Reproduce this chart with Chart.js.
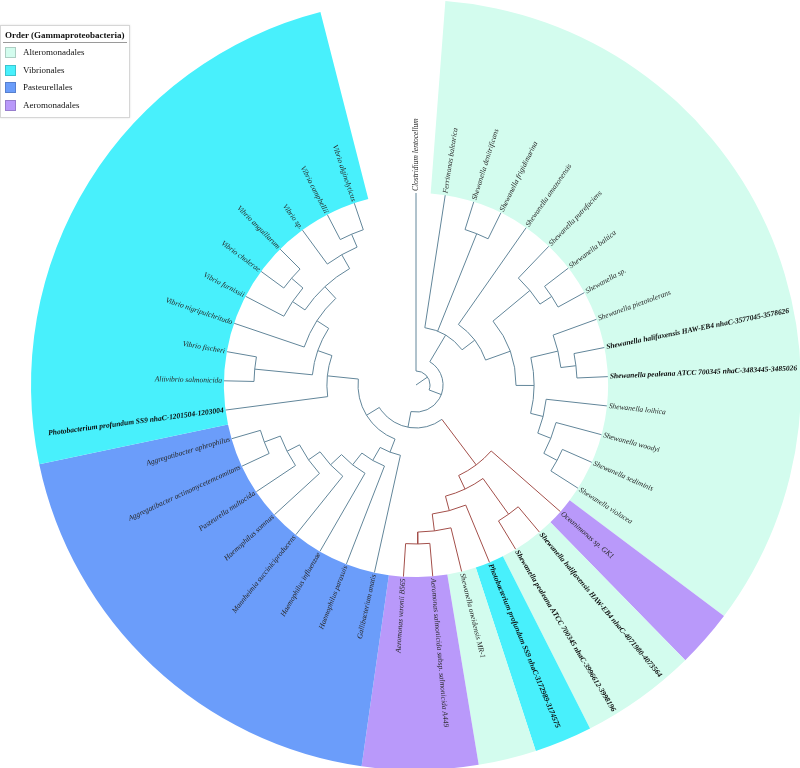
<!DOCTYPE html>
<html>
<head>
<meta charset="utf-8">
<script src="https://cdn.jsdelivr.net/npm/chart.js@4.4.0/dist/chart.umd.min.js"></script>
<style>
html,body{margin:0;padding:0;background:#fff;overflow:hidden;width:800px;height:768px;}
#wrap{position:relative;width:800px;height:768px;overflow:hidden;}
.layer{position:absolute;left:0;top:0;width:832px;height:770px;}
#legend{position:absolute;left:0;top:25px;width:128px;height:91px;border:1px solid #d6d6d6;background:#fff;
  font-family:"Liberation Serif","Times New Roman",serif;color:#111;box-shadow:0 0 2px rgba(0,0,0,0.12);}
#legend .lt{position:absolute;left:4px;top:4px;font-size:9px;font-weight:bold;white-space:nowrap;}
#legend .rule{position:absolute;left:2px;top:16px;width:124px;height:1px;background:#9a9a9a;}
#legend .li{position:absolute;left:4px;height:11px;line-height:11px;font-size:9px;white-space:nowrap;}
#legend .sw{display:inline-block;width:11px;height:11px;box-sizing:border-box;border:1px solid rgba(0,0,0,0.18);vertical-align:top;margin-right:7px;}
</style>
</head>
<body>
<div id="wrap">
  <div class="layer"><canvas id="wedges"></canvas></div>
  <div class="layer"><canvas id="tree"></canvas></div>
  <div id="legend"></div>
</div>
<script>
// ---------- data ----------
const leafNames = [
  'Clostridium lentocellum','Ferrimonas balearica','Shewanella denitrificans','Shewanella frigidimarina',
  'Shewanella amazonensis','Shewanella putrefaciens','Shewanella baltica','Shewanella sp.',
  'Shewanella piezotolerans','Shewanella halifaxensis HAW-EB4 nhaC-3577045-3578626',
  'Shewanella pealeana ATCC 700345 nhaC-3483445-3485026','Shewanella loihica','Shewanella woodyi',
  'Shewanella sediminis','Shewanella violacea','Oceanimonas sp. GK1',
  'Shewanella halifaxensis HAW-EB4 nhaC-4071980-4073564','Shewanella pealeana ATCC 700345 nhaC-3996612-3998196',
  'Photobacterium profundum SS9 nhaC-3172989-3174575','Shewanella oneidensis MR-1',
  'Aeromonas salmonicida subsp. salmonicida A449','Aeromonas veronii B565','Gallibacterium anatis',
  'Haemophilus parasuis','Haemophilus influenzae','Mannheimia succiniciproducens','Haemophilus somnus',
  'Pasteurella multocida','Aggregatibacter actinomycetemcomitans','Aggregatibacter aphrophilus',
  'Photobacterium profundum SS9 nhaC-1201504-1203004','Aliivibrio salmonicida','Vibrio fischeri',
  'Vibrio nigripulchritudo','Vibrio furnissii','Vibrio cholerae','Vibrio anguillarum','Vibrio sp.',
  'Vibrio campbellii','Vibrio alginolyticus'
];
const ALT='Alteromonadales', VIB='Vibrionales', PAS='Pasteurellales', AER='Aeromonadales';
const leafOrders = [
  '', ALT,ALT,ALT,ALT,ALT,ALT,ALT,ALT,ALT,ALT,ALT,ALT,ALT,ALT,
  AER, ALT,ALT, VIB, ALT, AER,AER,
  PAS,PAS,PAS,PAS,PAS,PAS,PAS,PAS,
  VIB,VIB,VIB,VIB,VIB,VIB,VIB,VIB,VIB,VIB
];
const boldLeaves = [10, 11, 17, 18, 19, 31];
const legendTitle = 'Order (Gammaproteobacteria)';
const orderNames  = [ALT, VIB, PAS, AER];
const orderColors = ['#d3fcee', '#48f0fc', '#6b9dfa', '#b999fa'];

// internal nodes: depth relative to the tips (tip = 1); children are leaf numbers or node names
const nodeNames = ['Root','G','T','DF','A','Q','PBS','BS','PL','PHP','HP','LOI','WSV','SV',
  'L','R0','R1','R2','R3','R4','R5','VP','P0','P1','P2','P3','P4','P5','AA',
  'V0','V2','FA','V3','V4','FCA','CA','SAC','AC'];
const nodeDepths = [0.073,0.141,0.302,0.849,0.385,0.521,0.771,0.844,0.615,0.760,0.839,0.682,0.755,0.833,
  0.224,0.521,0.599,0.828,0.677,0.766,0.828,0.302,0.375,0.453,0.531,0.609,0.682,0.755,0.844,
  0.464,0.542,0.844,0.615,0.698,0.776,0.854,0.781,0.854];
const nodeChildren = [[1,'G'],['T','L'],[2,'DF','A'],[3,4],[5,'Q'],['PBS','PL'],[6,'BS'],[7,8],
  ['PHP','LOI'],[9,'HP'],[10,11],[12,'WSV'],[13,'SV'],[14,15],
  ['R0','VP'],[16,'R1'],['R2','R3'],[17,18],[19,'R4'],[20,'R5'],[21,22],
  ['P0','V0'],[23,'P1'],[24,'P2'],[25,'P3'],[26,'P4'],[27,'P5'],[28,'AA'],[29,30],
  [31,'V2'],['FA','V3'],[32,33],[34,'V4'],['FCA','SAC'],[35,'CA'],[36,37],[38,'AC'],[39,40]];
const redClade = 'R0';

// ---------- layout helpers ----------
const SPAN = 350;                       // degrees of the circle used by the tips
const step = SPAN / leafNames.length;
const leafAngle = i => (i - 1) * step;  // clockwise from 12 o'clock
const nodeIndex = {};
nodeNames.forEach((n, i) => nodeIndex[n] = i);
function angleOf(c) {
  if (typeof c === 'number') return leafAngle(c);
  const ch = nodeChildren[nodeIndex[c]];
  return (angleOf(ch[0]) + angleOf(ch[ch.length - 1])) / 2;
}
function depthOf(c) { return typeof c === 'number' ? 1 : nodeDepths[nodeIndex[c]]; }
const redSet = new Set();
(function mark(c) { redSet.add(c); if (typeof c !== 'number') nodeChildren[nodeIndex[c]].forEach(mark); })(redClade);
const rad = d => d * Math.PI / 180;
const pt = (r, th) => ({ x: r * Math.sin(rad(th)), y: r * Math.cos(rad(th)) });

const BLUE = '#62869a', RED = '#a34f4a';
const blueSeg = [], redSeg = [];
function addSeg(arr, r1, r2, th) { arr.push(pt(r1, th), pt(r2, th), { x: null, y: null }); }
addSeg(blueSeg, 0, depthOf('Root'), angleOf('Root'));
nodeNames.forEach((n, i) => {
  nodeChildren[i].forEach(c => addSeg(redSet.has(c) ? redSeg : blueSeg, nodeDepths[i], depthOf(c), angleOf(c)));
});

// ---------- wedges (doughnut) ----------
const segCounts = [], segColors = [];
leafOrders.forEach((o, i) => {
  if (i > 0 && o === leafOrders[i - 1]) { segCounts[segCounts.length - 1]++; }
  else { segCounts.push(1); segColors.push(o ? orderColors[orderNames.indexOf(o)] : 'rgba(0,0,0,0)'); }
});
new Chart(document.getElementById('wedges'), {
  type: 'doughnut',
  data: { datasets: [{ data: segCounts, backgroundColor: segColors, borderWidth: 0, offset: 0, hoverOffset: 0 }] },
  options: {
    responsive: true, maintainAspectRatio: false, animation: false, events: [],
    rotation: -step / 2, circumference: SPAN, cutout: '49.9%',
    layout: { padding: 0, autoPadding: false },
    plugins: { legend: { display: false }, tooltip: { enabled: false } }
  }
});

// ---------- tree ----------
const treePlugin = {
  id: 'treeArcsLabels',
  afterDatasetsDraw(chart) {
    const { ctx, scales: { x, y } } = chart;
    const cx = x.getPixelForValue(0), cy = y.getPixelForValue(0);
    const unit = x.getPixelForValue(1) - cx;
    ctx.save();
    ctx.lineWidth = 1;
    nodeNames.forEach((n, i) => {
      const ch = nodeChildren[i];
      const a1 = angleOf(ch[0]), a2 = angleOf(ch[ch.length - 1]);
      ctx.strokeStyle = redSet.has(n) ? RED : BLUE;
      ctx.beginPath();
      ctx.arc(cx, cy, nodeDepths[i] * unit, rad(a1 - 90), rad(a2 - 90), false);
      ctx.stroke();
    });
    ctx.textBaseline = 'middle';
    leafNames.forEach((name, k) => {
      const i = k + 1, th = leafAngle(i);
      const bold = boldLeaves.includes(i);
      const R = unit + 2;
      const px = cx + R * Math.sin(rad(th)), py = cy - R * Math.cos(rad(th));
      ctx.save();
      ctx.translate(px, py);
      ctx.fillStyle = bold ? '#0a0a0a' : '#262626';
      ctx.font = (bold ? 'italic bold ' : 'italic ') + '7.5px "Liberation Serif", serif';
      if (th <= 180) { ctx.rotate(rad(th - 90)); ctx.textAlign = 'left'; }
      else { ctx.rotate(rad(th + 90)); ctx.textAlign = 'right'; }
      ctx.fillText(name, 0, 0);
      ctx.restore();
    });
    ctx.restore();
  }
};
const HX = 416 / 192, HY = 385 / 192;
new Chart(document.getElementById('tree'), {
  type: 'scatter',
  data: { datasets: [
    { data: blueSeg, showLine: true, borderColor: BLUE, borderWidth: 1, pointRadius: 0, pointHoverRadius: 0, spanGaps: false },
    { data: redSeg,  showLine: true, borderColor: RED,  borderWidth: 1, pointRadius: 0, pointHoverRadius: 0, spanGaps: false }
  ] },
  options: {
    responsive: true, maintainAspectRatio: false, animation: false, events: [],
    layout: { padding: 0, autoPadding: false },
    scales: {
      x: { type: 'linear', min: -HX, max: HX, display: false },
      y: { type: 'linear', min: -HY, max: HY, display: false }
    },
    plugins: { legend: { display: false }, tooltip: { enabled: false } }
  },
  plugins: [treePlugin]
});

// ---------- legend ----------
const lg = document.getElementById('legend');
lg.innerHTML = '<div class="lt">' + legendTitle + '</div><div class="rule"></div>' +
  orderNames.map((n, i) => '<div class="li" style="top:' + (21 + i * 17.7).toFixed(1) + 'px"><span class="sw" style="background:' +
    orderColors[i] + '"></span>' + n + '</div>').join('');
</script>
</body>
</html>
